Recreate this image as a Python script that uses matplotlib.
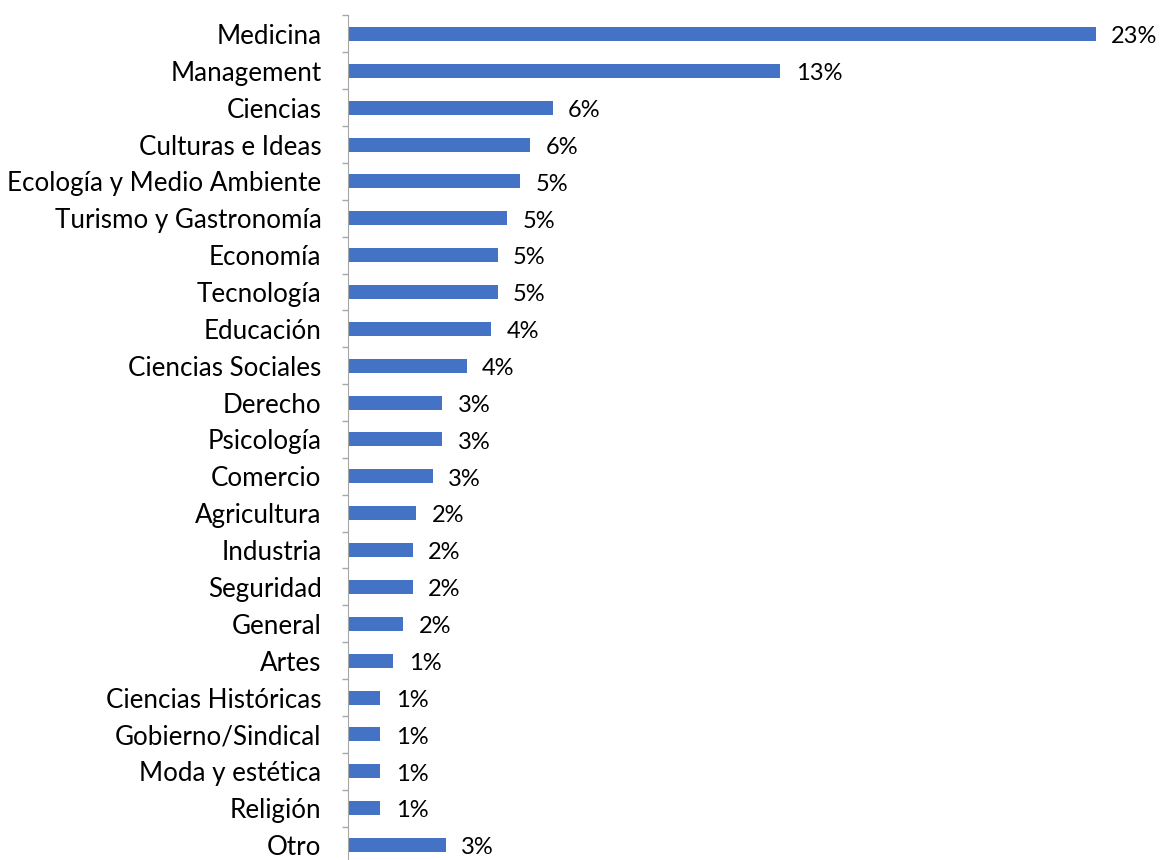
import matplotlib
matplotlib.use("Agg")
import matplotlib.pyplot as plt
import numpy as np

# categories (top to bottom) and estimated shares in %
categories = ["Medicina", "Management", "Ciencias", "Culturas e Ideas",
              "Ecología y Medio Ambiente", "Turismo y Gastronomía", "Economía",
              "Tecnología", "Educación", "Ciencias Sociales", "Derecho",
              "Psicología", "Comercio", "Agricultura", "Industria", "Seguridad",
              "General", "Artes", "Ciencias Históricas", "Gobierno/Sindical",
              "Moda y estética", "Religión", "Otro"]
values = [23.0, 13.3, 6.3, 5.6, 5.3, 4.9, 4.6, 4.6, 4.4, 3.65, 2.9, 2.9, 2.6,
          2.1, 2.0, 2.0, 1.7, 1.4, 1.0, 1.0, 1.0, 1.0, 3.0]

plt.rcParams['font.family'] = ['Lato', 'DejaVu Sans']

fig = plt.figure(figsize=(11.61, 8.6), dpi=100)
ax = fig.add_axes([0.2997, -0.004, 0.7003, 0.986])

y = np.arange(len(categories))
ax.barh(y, values, height=0.38, color="#4472C4")

# value labels to the right of each bar
for yi, v in zip(y, values):
    ax.annotate(f"{v:.0f}%", (v, yi), xytext=(11, -2), textcoords="offset points",
                ha="left", va="center", fontsize=17)

ax.set_ylim(len(categories) - 0.5, -0.5)
ax.set_xlim(0, 25)
ax.set_yticks(y)
ax.set_yticklabels(categories, fontsize=18.7)
ax.tick_params(axis="y", which="major", length=0, pad=19)
ax.set_yticks(np.arange(-0.5, len(categories), 1), minor=True)
ax.tick_params(axis="y", which="minor", length=4.5, color="#A6A6A6", width=1)
ax.set_xticks([])

for s in ["top", "right", "bottom"]:
    ax.spines[s].set_visible(False)
ax.spines["left"].set_color("#A6A6A6")

fig.savefig("out.png", dpi=100)
